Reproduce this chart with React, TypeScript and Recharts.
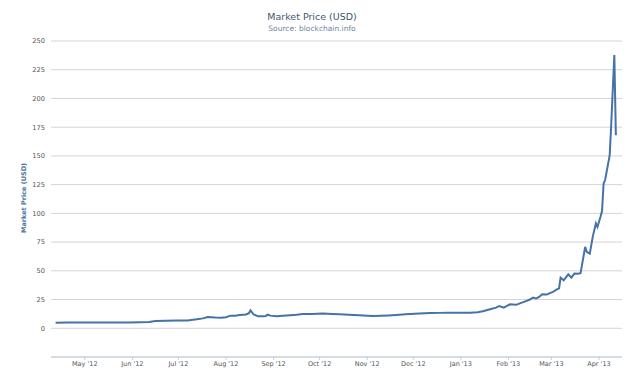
import React from 'react';
import { LineChart, Line, XAxis, YAxis, CartesianGrid } from 'recharts';

const dates: string[] = [
  '2012-04-12', '2012-04-20', '2012-04-28', '2012-05-06', '2012-05-14', '2012-05-22', '2012-05-30',
  '2012-06-06', '2012-06-12', '2012-06-16', '2012-06-23', '2012-06-30', '2012-07-07', '2012-07-13',
  '2012-07-17', '2012-07-20', '2012-07-25', '2012-07-29', '2012-08-01', '2012-08-04', '2012-08-07',
  '2012-08-10', '2012-08-14', '2012-08-16', '2012-08-17', '2012-08-19', '2012-08-22', '2012-08-25',
  '2012-08-27', '2012-08-28', '2012-08-30', '2012-09-03', '2012-09-07', '2012-09-12', '2012-09-16',
  '2012-09-20', '2012-09-26', '2012-10-03', '2012-10-09', '2012-10-14', '2012-10-20', '2012-10-27',
  '2012-11-01', '2012-11-05', '2012-11-10', '2012-11-15', '2012-11-20', '2012-11-26', '2012-12-05',
  '2012-12-12', '2012-12-18', '2012-12-23', '2012-12-30', '2013-01-07', '2013-01-12', '2013-01-16',
  '2013-01-20', '2013-01-24', '2013-01-26', '2013-01-29', '2013-02-02', '2013-02-06', '2013-02-08',
  '2013-02-12', '2013-02-15', '2013-02-17', '2013-02-19', '2013-02-21', '2013-02-23', '2013-02-26',
  '2013-02-28', '2013-03-02', '2013-03-04', '2013-03-06', '2013-03-07', '2013-03-09', '2013-03-12',
  '2013-03-14', '2013-03-16', '2013-03-18', '2013-03-20', '2013-03-23', '2013-03-24', '2013-03-26',
  '2013-03-28', '2013-03-30', '2013-03-31', '2013-04-02', '2013-04-03', '2013-04-04', '2013-04-05',
  '2013-04-08', '2013-04-09', '2013-04-11', '2013-04-12',
];

const prices: number[] = [
  4.9, 5.1, 5.1, 5.1, 5.0, 5.1, 5.1,
  5.3, 5.5, 6.3, 6.6, 6.7, 6.8, 7.8,
  8.6, 9.8, 9.4, 9.2, 9.6, 11.0, 11.0,
  11.6, 12.0, 13.2, 15.6, 12.0, 10.4, 10.5,
  10.7, 11.8, 11.0, 10.4, 10.8, 11.4, 11.8,
  12.4, 12.5, 12.8, 12.5, 12.2, 11.8, 11.4,
  11.0, 10.7, 10.9, 11.2, 11.6, 12.2, 12.8,
  13.3, 13.4, 13.6, 13.5, 13.6, 14.0, 15.0,
  16.5, 18.0, 19.4, 18.0, 20.9, 20.4, 21.4,
  23.4, 25.0, 26.7, 26.0, 27.2, 29.6, 29.3,
  30.6, 31.6, 33.4, 34.8, 44.1, 41.8, 47.0,
  44.0, 47.6, 47.4, 48.0, 70.8, 66.5, 65.0,
  80.0, 91.2, 88.2, 97.0, 102.0, 126.0, 129.0,
  150.7, 178.0, 237.8, 168.0,
];

const monthTicks: string[] = [
  '2012-05-01', '2012-06-01', '2012-07-01', '2012-08-01', '2012-09-01', '2012-10-01',
  '2012-11-01', '2012-12-01', '2013-01-01', '2013-02-01', '2013-03-01', '2013-04-01',
];
const monthLabels: string[] = [
  "May '12", "Jun '12", "Jul '12", "Aug '12", "Sep '12", "Oct '12",
  "Nov '12", "Dec '12", "Jan '13", "Feb '13", "Mar '13", "Apr '13",
];
const yTicks: number[] = [0, 25, 50, 75, 100, 125, 150, 175, 200, 225, 250];

const toTs = (s: string) => {
  const [y, m, d] = s.split('-').map(Number);
  return Date.UTC(y, m - 1, d);
};

const data = dates.map((d, i) => ({ t: toTs(d), price: prices[i] }));
const xTickValues = monthTicks.map(toTs);
const xDomain = [toTs('2012-04-09'), toTs('2013-04-16')];

const FONT = '"DejaVu Sans", "Liberation Sans", Arial, sans-serif';

export default function App() {
  return (
    <div style={{ position: 'absolute', left: 0, top: 0, width: 640, height: 380, background: '#fff', fontFamily: FONT }}>
      <LineChart
        width={640}
        height={380}
        data={data}
        margin={{ top: 41, right: 18, bottom: 3, left: 11 }}
      >
        <CartesianGrid horizontal={true} vertical={false} stroke="#D4D4D4" strokeWidth={1} />
        <XAxis
          dataKey="t"
          type="number"
          scale="time"
          domain={xDomain}
          ticks={xTickValues}
          tickFormatter={(v: number) => {
            const i = xTickValues.indexOf(v);
            return i >= 0 ? monthLabels[i] : '';
          }}
          height={20}
          stroke="#C0D0E0"
          axisLine={{ stroke: '#C0D0E0' }}
          tickLine={{ stroke: '#C0D0E0' }}
          tickSize={3}
          tickMargin={1}
          tick={{ fontSize: 6.5, fill: '#555', fontFamily: FONT }}
          allowDataOverflow
          interval={0}
        />
        <YAxis
          type="number"
          domain={[-25, 250]}
          ticks={yTicks}
          width={40}
          axisLine={false}
          tickLine={false}
          tickSize={6}
          tickMargin={0}
          tick={{ fontSize: 6.7, fill: '#555', fontFamily: FONT }}
          interval={0}
        />
        <Line
          type="linear"
          dataKey="price"
          stroke="#4572A7"
          strokeWidth={2}
          dot={false}
          isAnimationActive={false}
        />
      </LineChart>
      <div style={{ position: 'absolute', left: 0, top: 11, width: 624, textAlign: 'center', fontSize: 9.5, color: '#3E576F', lineHeight: '11px', whiteSpace: 'nowrap' }}>
        Market Price (USD)
      </div>
      <div style={{ position: 'absolute', left: 0, top: 23.5, width: 624, textAlign: 'center', fontSize: 7.5, color: '#6D869F', lineHeight: '9px', whiteSpace: 'nowrap' }}>
        Source: blockchain.info
      </div>
      <div style={{ position: 'absolute', left: 23.5, top: 198, transform: 'translate(-50%, -50%) rotate(-90deg)', fontSize: 6.5, fontWeight: 'bold', color: '#4D759E', whiteSpace: 'nowrap', lineHeight: '8px' }}>
        Market Price (USD)
      </div>
    </div>
  );
}
